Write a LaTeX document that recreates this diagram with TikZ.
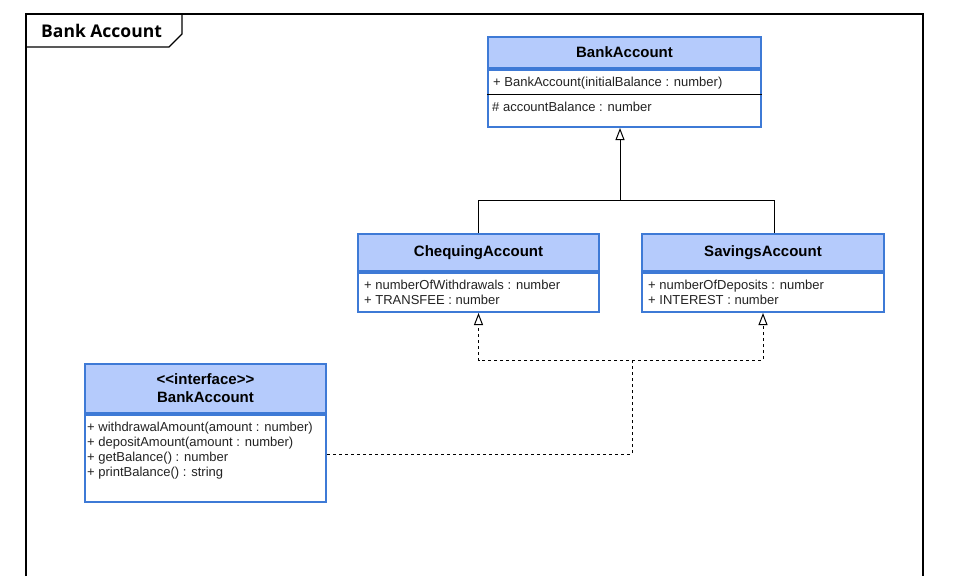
\documentclass[tikz,border=0pt]{standalone}
\usepackage{fontspec}
\setmainfont{Liberation Sans}
\newfontfamily\framefont{Open Sans}
\usepackage{tikz}
\usetikzlibrary{arrows.meta,positioning,calc}

\definecolor{umlborder}{RGB}{62,122,214}
\definecolor{umlfill}{RGB}{181,203,252}
\definecolor{membertext}{RGB}{35,35,35}

\tikzset{
	classhead/.style={draw=umlborder, fill=umlfill, line width=2pt, inner sep=0pt, anchor=north west, align=center, font=\fontsize{15}{18}\selectfont\bfseries},
	classbody/.style={draw=umlborder, fill=white, line width=2pt, inner sep=0pt, anchor=north},
	members/.style={anchor=north west, align=left, inner sep=0pt, text=membertext, font=\fontsize{13}{15}\selectfont},
	generalize/.style={line width=1pt, -{Triangle[open, length=12pt, width=9pt]}},
	realize/.style={generalize, dash pattern=on 3pt off 3pt},
}

\begin{document}
\begin{tikzpicture}[x=1pt, y=-1pt]
	\useasboundingbox[fill=white] (0,0) rectangle (976,576);

	% Frame with its name tab
	\draw[line width=1.1pt] (26,576) -- (26,14) -- (923,14) -- (923,576);
	\node[anchor=west, inner sep=0pt, font=\framefont\bfseries\fontsize{17.5}{20}\selectfont] (frametitle) at (41,31) {Bank Account};
	\draw[line width=1.1pt] (26,47) -- (169,47) -- (182,34) -- (182,14);

	% Superclass
	\node[classhead, minimum width=273, minimum height=31] (bank) at (487,36) {BankAccount};
	\node[classbody, minimum width=273, minimum height=57] (bankbody) at (bank.south) {};
	\node[members] (bankctor) at ([xshift=6pt, yshift=-8pt]bank.south west) {+ BankAccount(initialBalance : number)};
	\coordinate (banksep) at ([yshift=-25pt]bank.south west);
	\draw[line width=0.9pt] (banksep) -- (banksep -| bankbody.east);
	\node[members] (bankattr) at ([xshift=5pt, yshift=-7.5pt]banksep) {\# accountBalance : number};

	% Subclasses
	\node[classhead, minimum width=241, minimum height=37] (cheq) at (357,233) {ChequingAccount};
	\node[classbody, minimum width=241, minimum height=39] (cheqbody) at (cheq.south) {};
	\node[members] (cheqattr) at ([xshift=7pt, yshift=-8pt]cheqbody.north west) {+ numberOfWithdrawals : number\\+ TRANSFEE : number};

	\node[classhead, minimum width=242, minimum height=37] (sav) at (641,233) {SavingsAccount};
	\node[classbody, minimum width=242, minimum height=39] (savbody) at (sav.south) {};
	\node[members] (savattr) at ([xshift=7pt, yshift=-8pt]savbody.north west) {+ numberOfDeposits : number\\+ INTEREST : number};

	% Interface
	\node[classhead, minimum width=241, minimum height=49] (iface) at (84,363) {<\kern0pt<interface>\kern0pt>\\BankAccount};
	\node[classbody, minimum width=241, minimum height=87] (ifacebody) at (iface.south) {};
	\node[members] (ifaceops) at ([xshift=3pt, yshift=-8pt]ifacebody.north west) {+ withdrawalAmount(amount : number)\\+ depositAmount(amount : number)\\+ getBalance() : number\\+ printBalance() : string};

	% Generalisation
	\coordinate (genjoin) at (620,200);
	\draw[generalize] (cheq.north) |- (genjoin) -- (genjoin |- bankbody.south);
	\draw[line width=1pt] ([xshift=11pt]sav.north) |- (genjoin);

	% Realisation
	\coordinate (realjoin) at (632,360);
	\draw[realize] ([yshift=4.5pt]ifacebody.east) -| (realjoin) -| (cheqbody.south);
	\draw[realize] (realjoin) -| (savbody.south);
\end{tikzpicture}
\end{document}
